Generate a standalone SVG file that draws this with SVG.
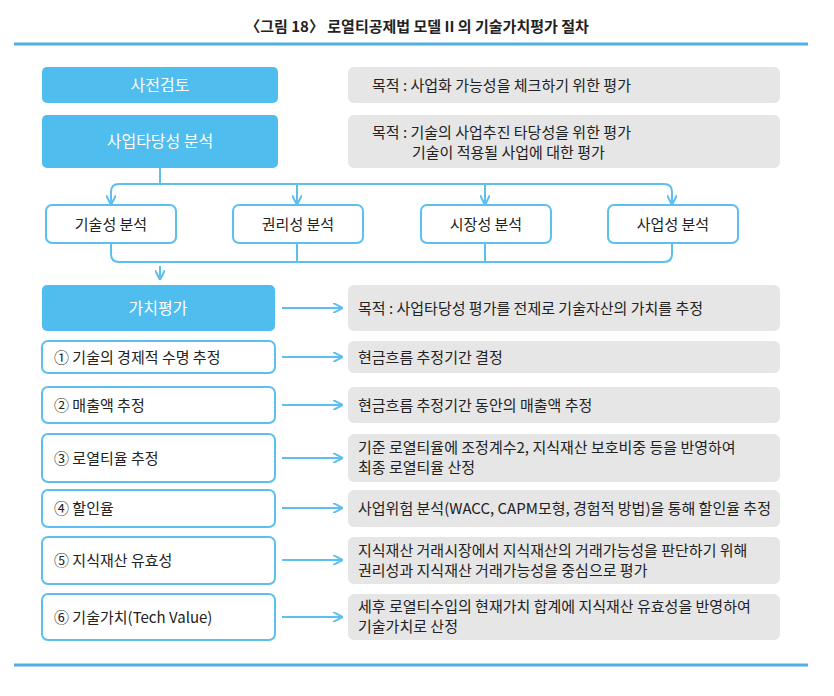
<svg xmlns="http://www.w3.org/2000/svg" width="834" height="696" viewBox="0 0 834 696">
<style>
text{font-family:"Noto Sans CJK KR","Noto Sans",sans-serif;font-size:15px;fill:#222}
.b{fill:#4FBDEE}
.bt{fill:#fff;font-size:16px}
.w{fill:#fff;stroke:#5BC0F0;stroke-width:2}
.g{fill:#E6E6E6}
.c{fill:none;stroke:#5BC0F0;stroke-width:2}
</style>
<defs><marker id="a" viewBox="0 0 10 10" refX="9" refY="5" markerWidth="5" markerHeight="5" orient="auto"><path d="M0,0 L10,5 L0,10" fill="none" stroke="#5BC0F0" stroke-width="2"/></marker></defs>
<text x="417" y="32" text-anchor="middle" style="font-size:15px;font-weight:bold">〈그림 18〉 로열티공제법 모델 II 의 기술가치평가 절차</text>
<line x1="14" y1="44" x2="808" y2="44" stroke="#4FAEE6" stroke-width="3"/>
<line x1="14" y1="665" x2="808" y2="665" stroke="#4FAEE6" stroke-width="3"/>
<g id="connectors">
<path class="c" d="M160,168 V184"/>
<path class="c" d="M111,204 V192 Q111,184 119,184 H664 Q672,184 672,192 V204" marker-end="url(#a)"/>
<path class="c" d="M111,192 V204" marker-end="url(#a)"/>
<path class="c" d="M297,184 V204" marker-end="url(#a)"/>
<path class="c" d="M485,184 V204" marker-end="url(#a)"/>
<path class="c" d="M111,243 V254 Q111,262 119,262 H664 Q672,262 672,254 V243"/>
<path class="c" d="M297,243 V262 M485,243 V262"/>
<path class="c" d="M160,266 V279" marker-end="url(#a)"/>
<path class="c" d="M282,308 H342" marker-end="url(#a)"/>
<path class="c" d="M282,357 H342" marker-end="url(#a)"/>
<path class="c" d="M282,405 H342" marker-end="url(#a)"/>
<path class="c" d="M282,458 H342" marker-end="url(#a)"/>
<path class="c" d="M282,508 H342" marker-end="url(#a)"/>
<path class="c" d="M282,560 H342" marker-end="url(#a)"/>
<path class="c" d="M282,617 H342" marker-end="url(#a)"/>
</g>
<g id="n1"><rect class="b" x="42" y="67" width="236" height="36" rx="5"/><text class="bt" x="160" y="91" text-anchor="middle">사전검토</text></g>
<g id="p1"><rect class="g" x="348" y="67" width="432" height="36" rx="6"/><text x="372" y="91">목적 : 사업화 가능성을 체크하기 위한 평가</text></g>
<g id="n2"><rect class="b" x="42" y="115" width="236" height="53" rx="5"/><text class="bt" x="160" y="147" text-anchor="middle">사업타당성 분석</text></g>
<g id="p2"><rect class="g" x="348" y="115" width="432" height="53" rx="6"/><text x="372" y="138">목적 : 기술의 사업추진 타당성을 위한 평가</text><text x="412" y="158">기술이 적용될 사업에 대한 평가</text></g>
<g id="s1"><rect class="w" x="46" y="205" width="130" height="38" rx="6"/><text x="111" y="230" text-anchor="middle">기술성 분석</text></g>
<g id="s2"><rect class="w" x="233" y="205" width="130" height="38" rx="6"/><text x="298" y="230" text-anchor="middle">권리성 분석</text></g>
<g id="s3"><rect class="w" x="421" y="205" width="130" height="38" rx="6"/><text x="486" y="230" text-anchor="middle">시장성 분석</text></g>
<g id="s4"><rect class="w" x="608" y="205" width="130" height="38" rx="6"/><text x="673" y="230" text-anchor="middle">사업성 분석</text></g>
<g id="n3"><rect class="b" x="42" y="285" width="233" height="46" rx="5"/><text class="bt" x="158" y="314" text-anchor="middle">가치평가</text></g>
<g id="p3"><rect class="g" x="348" y="285" width="432" height="46" rx="6"/><text x="358" y="314">목적 : 사업타당성 평가를 전제로 기술자산의 가치를 추정</text></g>
<g id="i1"><rect class="w" x="42" y="341" width="233" height="32" rx="6"/><text x="54" y="363">① 기술의 경제적 수명 추정</text></g>
<g id="q1"><rect class="g" x="348" y="341" width="432" height="32" rx="6"/><text x="358" y="363">현금흐름 추정기간 결정</text></g>
<g id="i2"><rect class="w" x="42" y="387" width="233" height="36" rx="6"/><text x="54" y="411">② 매출액 추정</text></g>
<g id="q2"><rect class="g" x="348" y="387" width="432" height="36" rx="6"/><text x="358" y="411">현금흐름 추정기간 동안의 매출액 추정</text></g>
<g id="i3"><rect class="w" x="42" y="434" width="233" height="48" rx="6"/><text x="54" y="464">③ 로열티율 추정</text></g>
<g id="q3"><rect class="g" x="348" y="434" width="432" height="48" rx="6"/><text x="358" y="453">기준 로열티율에 조정계수2, 지식재산 보호비중 등을 반영하여</text><text x="358" y="473">최종 로열티율 산정</text></g>
<g id="i4"><rect class="w" x="42" y="490" width="233" height="37" rx="6"/><text x="54" y="514">④ 할인율</text></g>
<g id="q4"><rect class="g" x="348" y="490" width="432" height="37" rx="6"/><text x="358" y="514">사업위험 분석(WACC, CAPM모형, 경험적 방법)을 통해 할인율 추정</text></g>
<g id="i5"><rect class="w" x="42" y="537" width="233" height="47" rx="6"/><text x="54" y="566">⑤ 지식재산 유효성</text></g>
<g id="q5"><rect class="g" x="348" y="537" width="432" height="47" rx="6"/><text x="358" y="556">지식재산 거래시장에서 지식재산의 거래가능성을 판단하기 위해</text><text x="358" y="576">권리성과 지식재산 거래가능성을 중심으로 평가</text></g>
<g id="i6"><rect class="w" x="42" y="594" width="233" height="46" rx="6"/><text x="54" y="623">⑥ 기술가치(Tech Value)</text></g>
<g id="q6"><rect class="g" x="348" y="594" width="432" height="46" rx="6"/><text x="358" y="612">세후 로열티수입의 현재가치 합계에 지식재산 유효성을 반영하여</text><text x="358" y="632">기술가치로 산정</text></g>
</svg>
